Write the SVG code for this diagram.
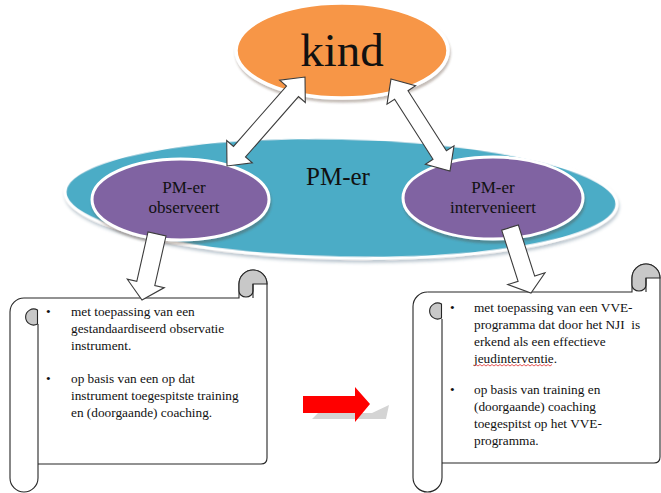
<svg xmlns="http://www.w3.org/2000/svg" width="661" height="493" viewBox="0 0 661 493">
<style>
  .serif{font-family:"Liberation Serif","Times New Roman",serif;fill:#111}
  .big{font-size:47px}
  .mid{font-size:25px}
  .lab{font-size:17px;text-anchor:middle}
  .txt text{font-family:"Liberation Serif","Times New Roman",serif;font-size:13.3px;fill:#111}
  .paper{fill:#fff;stroke:none}
  .line{fill:none;stroke:#262626;stroke-width:1.1}
  .curl{fill:#c8c8c8;stroke:#262626;stroke-width:1.1}
  .arr{fill:#fff;stroke:#3c3c3c;stroke-width:1.1;stroke-linejoin:miter}
</style>
<defs>
  <filter id="sh" x="-10%" y="-10%" width="120%" height="130%">
    <feDropShadow dx="1" dy="3" stdDeviation="1.2" flood-color="#5a4030" flood-opacity="0.35"/>
  </filter>
  <filter id="sh2" x="-10%" y="-10%" width="120%" height="130%">
    <feDropShadow dx="1" dy="3" stdDeviation="1.5" flood-color="#30506a" flood-opacity="0.3"/>
  </filter>
</defs>
<rect width="661" height="493" fill="#fff"/>

<g id="pmer">
  <ellipse cx="341" cy="198" rx="276" ry="60" transform="rotate(1.3 341 198)" fill="#4BACC6" stroke="#fff" stroke-width="3" filter="url(#sh2)"/>
  <text class="serif mid" x="338" y="185" text-anchor="middle">PM-er</text>
</g>

<g id="observeert">
  <ellipse cx="180.5" cy="199.5" rx="88.5" ry="40.5" fill="#8064A2" stroke="#fff" stroke-width="3" filter="url(#sh)"/>
  <text class="serif lab" x="184" y="193">PM-er</text>
  <text class="serif lab" x="184" y="213">observeert</text>
</g>

<g id="intervenieert">
  <ellipse cx="493" cy="198" rx="90" ry="41" fill="#8064A2" stroke="#fff" stroke-width="3" filter="url(#sh)"/>
  <text class="serif lab" x="493" y="193">PM-er</text>
  <text class="serif lab" x="493" y="213">intervenieert</text>
</g>

<g id="kind">
  <ellipse cx="342" cy="50.5" rx="106" ry="47.5" fill="#F79646" stroke="#fff" stroke-width="3.5" filter="url(#sh)"/>
  <text class="serif big" x="342" y="66" text-anchor="middle">kind</text>
</g>

<g id="scroll-left">
  <rect class="paper" x="38" y="298" width="229" height="166"/>
  <path class="paper" d="M239,298 V284 A14,14 0 0 1 267,284 V298 Z"/>
  <rect class="paper" x="10" y="298" width="28" height="194" rx="14"/>
  <path class="line" d="M24,298 H239 V284 A14,14 0 0 1 267,284 V458 Q267,464 261,464 H38"/>
  <path class="curl" d="M239,284 A14,14 0 0 1 267,284 L253,284 V291 A7,6 0 0 1 239,291 Z"/>
  <path class="line" d="M253,284 V298"/>
  <path class="line" d="M24,298 A14,14 0 0 0 10,312 V478 A14,14 0 0 0 38,478 V324"/>
  <path class="curl" d="M37.5,310 A8,8 0 1 0 37.5,324 Z"/>
  <g class="txt">
    <text x="46" y="316">•</text>
    <text x="71" y="316">met toepassing van een</text>
    <text x="71" y="333">gestandaardiseerd observatie</text>
    <text x="71" y="350">instrument.</text>
    <text x="46" y="383">•</text>
    <text x="71" y="383">op basis van een op dat</text>
    <text x="71" y="400">instrument toegespitste training</text>
    <text x="71" y="417">en (doorgaande) coaching.</text>
  </g>
</g>

<g id="scroll-right">
  <rect class="paper" x="442" y="292" width="218" height="171"/>
  <path class="paper" d="M632,292 V278 A14,14 0 0 1 660,278 V292 Z"/>
  <rect class="paper" x="413" y="292" width="29" height="200" rx="14.5"/>
  <path class="line" d="M427.5,292 H632 V278 A14,14 0 0 1 660,278 V457 Q660,463 654,463 H442"/>
  <path class="curl" d="M632,278 A14,14 0 0 1 660,278 L646,278 V285 A7,6 0 0 1 632,285 Z"/>
  <path class="line" d="M646,278 V292"/>
  <path class="line" d="M427.5,292 A14.5,14.5 0 0 0 413,306.5 V477.5 A14.5,14.5 0 0 0 442,477.5 V319"/>
  <path class="curl" d="M441.5,304 A8,8 0 1 0 441.5,318 Z"/>
  <g class="txt">
    <text x="450" y="312">•</text>
    <text x="474" y="312">met toepassing van een VVE-</text>
    <text x="474" y="329" xml:space="preserve">programma dat door het NJI  is</text>
    <text x="474" y="346">erkend als een effectieve</text>
    <text x="474" y="363">jeudinterventie.</text>
    <text x="450" y="394">•</text>
    <text x="474" y="394">op basis van training en</text>
    <text x="474" y="411">(doorgaande) coaching</text>
    <text x="474" y="428">toegespitst op het VVE-</text>
    <text x="474" y="445">programma.</text>
  </g>
  <path d="M474,366 l2,-1.5 l2,1.5 l2,-1.5 l2,1.5 l2,-1.5 l2,1.5 l2,-1.5 l2,1.5 l2,-1.5 l2,1.5 l2,-1.5 l2,1.5 l2,-1.5 l2,1.5 l2,-1.5 l2,1.5 l2,-1.5 l2,1.5 l2,-1.5 l2,1.5 l2,-1.5 l2,1.5 l2,-1.5 l2,1.5 l2,-1.5 l2,1.5 l2,-1.5 l2,1.5 l2,-1.5 l2,1.5 l2,-1.5 l2,1.5 l2,-1.5 l2,1.5 l2,-1.5 l2,1.5 l2,-1.5 l2,1.5 l2,-1.5" fill="none" stroke="#e03030" stroke-width="0.8"/>
</g>

<g id="connectors">
  <polygon class="arr" points="305,77 305.3,102.5 298.5,96.6 245.5,157 252.3,162.9 227,166 226.7,140.5 233.5,146.4 286.5,86 279.7,80.1"/>
  <polygon class="arr" points="391,79 415.6,85.8 408,90.7 446.4,150.7 454,145.8 450,171 425.4,164.2 433,159.3 394.6,99.3 387,104.2"/>
  <polygon class="arr" points="166,236 154.8,285.5 164.3,287.6 142,300 127.3,279.2 136.8,281.4 148,232"/>
  <polygon class="arr" points="518.3,224.9 534.7,276.1 545,272.8 531,293 507.8,284.6 518.1,281.4 501.7,230.2"/>
  <polygon points="312,419 386,419 389,405 372,413 318,413" fill="#d4d4d4"/>
  <polygon points="303,396 355,396 355,387 370,404 355,422 355,413 303,413" fill="#ff0000"/>
</g>
</svg>
